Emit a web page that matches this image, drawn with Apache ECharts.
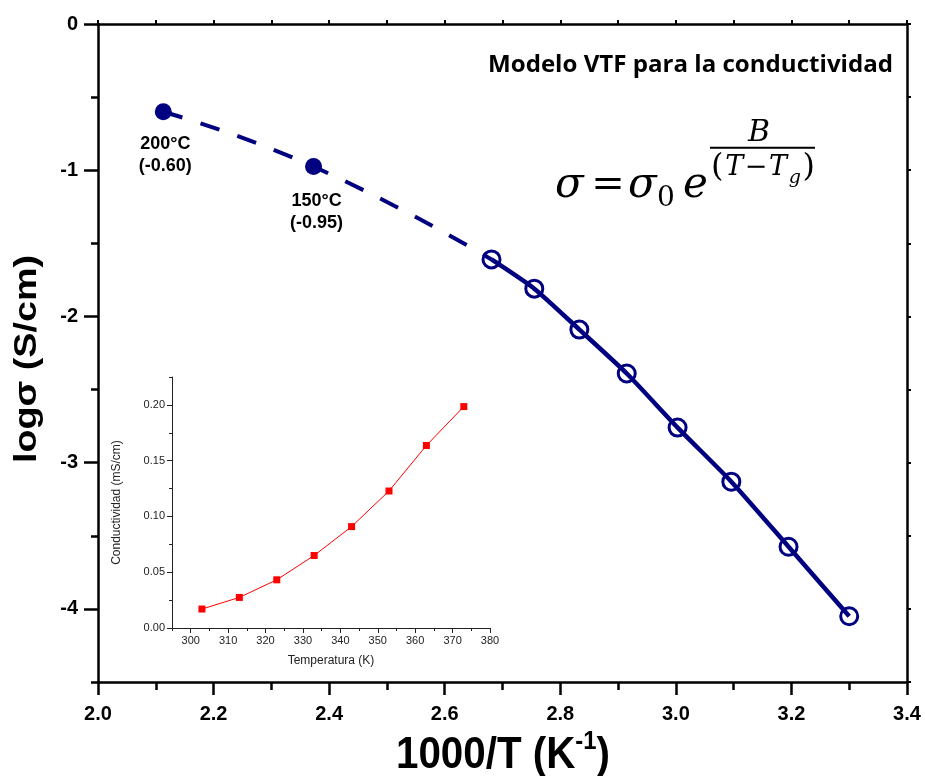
<!DOCTYPE html>
<html><head><meta charset="utf-8">
<script src="https://cdn.jsdelivr.net/npm/echarts@6/dist/echarts.min.js"></script>
<style>html,body{margin:0;padding:0;background:#fff}#c{width:925px;height:776px}</style>
</head><body><div id="c"></div>
<script>
// ---- data ----
const xTickValues = [2.0, 2.2, 2.4, 2.6, 2.8, 3.0, 3.2, 3.4];
const yTickValues = [0, -1, -2, -3, -4];
const yMinorValues = [-0.5, -1.5, -2.5, -3.5, -4.5];
const invTemp = [2.681, 2.755, 2.833, 2.915, 3.003, 3.096, 3.195, 3.300];
const logSigma = [-1.61, -1.81, -2.09, -2.39, -2.76, -3.13, -3.575, -4.05];
const extrapInvTemp = [2.113, 2.373];
const extrapLogSigma = [-0.60, -0.975];
const extrapTemp = ['200°C', '150°C'];
const extrapValueText = ['(-0.60)', '(-0.95)'];
const insetTempK = [303, 313, 323, 333, 343, 353, 363, 373];
const insetCond = [0.017, 0.0274, 0.0432, 0.065, 0.0909, 0.1228, 0.1636, 0.1985];
const insetXLabels = [300, 310, 320, 330, 340, 350, 360, 370, 380];
const insetXMinor = [295, 305, 315, 325, 335, 345, 355, 365, 375];
const insetYLabels = [0, 0.05, 0.10, 0.15, 0.20];
const insetYMinor = [0.025, 0.075, 0.125, 0.175, 0.225];
const titleText = 'Modelo VTF para la conductividad';
const yName = 'logσ (S/cm)';
const xNameMain = '1000/T (K';
const xNameSup = '-1';
const xNameEnd = ')';
const insetXName = 'Temperatura (K)';
const insetYName = 'Conductividad (mS/cm)';

// ---- helpers ----
const NAVY = '#000080';
const SANS = 'Liberation Sans, Arial, sans-serif';
const SERIF = '"DejaVu Serif"';
const mctx = document.createElement('canvas').getContext('2d');
function tw(font, s) { mctx.font = font; return mctx.measureText(s).width; }

const measured = invTemp.map((x, i) => [x, logSigma[i]]);
const dashed = extrapInvTemp.map((x, i) => [x, extrapLogSigma[i]]).concat([measured[0]]);
const extrapPts = extrapInvTemp.map((x, i) => ({
  value: [x, extrapLogSigma[i]],
  label: { distance: i === 0 ? 13 : 15, offset: [i === 0 ? 2 : 3, 0] }
}));
const insetData = insetTempK.map((t, i) => [t, insetCond[i]]);

// text fitting
const titleFont = 'bold 23px "Open Sans"';
const titleScale = 405 / tw(titleFont, titleText);
const yNameFont = 'bold 32px "Liberation Sans"';
const yNameScale = 208 / tw(yNameFont, yName);
const xMainFont = 'bold 44px "Liberation Sans"';
const xSupFont = 'bold 26px "Liberation Sans"';
const w1 = tw(xMainFont, xNameMain), w2 = tw(xSupFont, xNameSup), w3 = tw(xMainFont, xNameEnd);
const xScale = 214 / (w1 + w2 + w3);
const xStart = 503 - (w1 + w2 + w3) * xScale / 2;

const blackLine = { color: '#000', width: 2.5 };
const insetLine = { color: '#222', width: 1 };

function ftext(x, y, text, font, align) {
  return { type: 'text', x: x, y: y, silent: true,
    style: { text: text, font: font, fill: '#000', align: align || 'left', verticalAlign: 'middle' } };
}

// formula  sigma = sigma_0 e^{B/(T-T_g)}
const formula = [
  ftext(555, 186, 'σ', 'italic 42px ' + SERIF),
  ftext(608, 186, '=', '40px ' + SERIF, 'center'),
  ftext(628, 186, 'σ', 'italic 42px ' + SERIF),
  ftext(657, 199, '0', '28px ' + SERIF),
  ftext(683, 186, 'e', 'italic 42px ' + SERIF),
  ftext(759, 133, 'B', 'italic 30px ' + SERIF, 'center'),
  { type: 'line', silent: true, shape: { x1: 710, y1: 147.7, x2: 815, y2: 147.7 }, style: { stroke: '#000', lineWidth: 2 } }
];
const den = [
  { t: '(', f: '32px ' + SERIF, dy: 0 },
  { t: 'T', f: 'italic 27px ' + SERIF, dy: 0 },
  { t: '−', f: '27px ' + SERIF, dy: 0 },
  { t: 'T', f: 'italic 27px ' + SERIF, dy: 0 },
  { t: 'g', f: 'italic 19px ' + SERIF, dy: 10 },
  { t: ')', f: '32px ' + SERIF, dy: 0 }
];
const denW = den.reduce((s, d) => s + tw(d.f, d.t), 0);
const denGap = (104 - denW) / (den.length - 1);
let denX = 711;
den.forEach(d => { formula.push(ftext(denX, 168 + d.dy, d.t, d.f)); denX += tw(d.f, d.t) + denGap; });

const chart = echarts.init(document.getElementById('c'), null, { renderer: 'canvas' });
chart.setOption({
  animation: false,
  backgroundColor: '#fff',
  grid: [
    { left: 98, top: 24, width: 809, height: 658, outerBoundsMode: 'none' },
    { left: 172, top: 377, width: 318, height: 251, outerBoundsMode: 'none' }
  ],
  xAxis: [
    { type: 'value', gridIndex: 0, position: 'bottom', min: 2, max: 3.4, interval: 0.2,
      axisLine: { show: true, onZero: false, lineStyle: blackLine },
      axisTick: { show: true, inside: false, length: 13, lineStyle: blackLine },
      minorTick: { show: true, splitNumber: 2, length: 8, lineStyle: blackLine },
      axisLabel: { show: true, margin: 22, fontSize: 20, fontWeight: 'bold', fontFamily: SANS, color: '#000',
        formatter: v => v.toFixed(1) },
      splitLine: { show: false }, minorSplitLine: { show: false } },
    { type: 'value', gridIndex: 0, position: 'top', min: 2, max: 3.4, interval: 0.1,
      axisLine: { show: true, onZero: false, lineStyle: blackLine },
      axisTick: { show: true, inside: false, length: 4, lineStyle: { color: '#000', width: 2 } },
      axisLabel: { show: false }, splitLine: { show: false } },
    { type: 'value', gridIndex: 1, position: 'bottom', min: 295, max: 380, interval: 5,
      axisLine: { show: true, onZero: false, lineStyle: insetLine },
      axisTick: { show: true, inside: false, length: 5, customValues: insetXLabels, lineStyle: insetLine },
      axisLabel: { show: true, customValues: insetXLabels, margin: 7, fontSize: 11, fontFamily: SANS, color: '#222' },
      splitLine: { show: false },
      name: insetXName, nameLocation: 'middle', nameGap: 27,
      nameTextStyle: { fontSize: 12, fontFamily: SANS, color: '#222' } },
    { type: 'value', gridIndex: 1, position: 'bottom', min: 295, max: 380, interval: 5,
      axisLine: { show: false, onZero: false },
      axisTick: { show: true, inside: false, length: 3, customValues: insetXMinor, lineStyle: insetLine },
      axisLabel: { show: false }, splitLine: { show: false } }
  ],
  yAxis: [
    { type: 'value', gridIndex: 0, position: 'left', min: -4.5, max: 0, interval: 0.5,
      axisLine: { show: true, onZero: false, lineStyle: blackLine },
      axisTick: { show: true, inside: false, length: 14, customValues: yTickValues, lineStyle: blackLine },
      axisLabel: { show: true, customValues: yTickValues, margin: 20, fontSize: 20, fontWeight: 'bold',
        fontFamily: SANS, color: '#000', formatter: v => String(Math.round(v)) },
      splitLine: { show: false } },
    { type: 'value', gridIndex: 0, position: 'left', min: -4.5, max: 0, interval: 0.5,
      axisLine: { show: false, onZero: false },
      axisTick: { show: true, inside: false, length: 7, customValues: yMinorValues, lineStyle: blackLine },
      axisLabel: { show: false }, splitLine: { show: false } },
    { type: 'value', gridIndex: 0, position: 'right', min: -4.5, max: 0, interval: 0.5,
      axisLine: { show: true, onZero: false, lineStyle: blackLine },
      axisTick: { show: true, inside: false, length: 4, lineStyle: { color: '#000', width: 2 } },
      axisLabel: { show: false }, splitLine: { show: false } },
    { type: 'value', gridIndex: 1, position: 'left', min: 0, max: 0.225, interval: 0.05,
      axisLine: { show: true, onZero: false, lineStyle: insetLine },
      axisTick: { show: true, inside: false, length: 5, customValues: insetYLabels, lineStyle: insetLine },
      axisLabel: { show: true, customValues: insetYLabels, margin: 7, fontSize: 11, fontFamily: SANS, color: '#222',
        formatter: v => v.toFixed(2) },
      splitLine: { show: false },
      name: insetYName, nameLocation: 'middle', nameGap: 49, nameRotate: 90,
      nameTextStyle: { fontSize: 12, fontFamily: SANS, color: '#222' } },
    { type: 'value', gridIndex: 1, position: 'left', min: 0, max: 0.225, interval: 0.05,
      axisLine: { show: false, onZero: false },
      axisTick: { show: true, inside: false, length: 3, customValues: insetYMinor, lineStyle: insetLine },
      axisLabel: { show: false }, splitLine: { show: false } }
  ],
  series: [
    { type: 'line', xAxisIndex: 0, yAxisIndex: 0, data: dashed, smooth: true, symbol: 'none', showSymbol: false,
      lineStyle: { color: NAVY, width: 4, type: [20, 19], cap: 'butt' }, z: 2, silent: true },
    { type: 'scatter', xAxisIndex: 0, yAxisIndex: 0, data: extrapPts, symbol: 'circle', symbolSize: 17,
      itemStyle: { color: NAVY, opacity: 1 }, z: 3, silent: true,
      label: { show: true, position: 'bottom', fontSize: 18, fontWeight: 'bold', fontFamily: SANS, color: '#000',
        lineHeight: 22, align: 'center', opacity: 1,
        formatter: p => extrapTemp[p.dataIndex] + '\n' + extrapValueText[p.dataIndex] } },
    { type: 'line', xAxisIndex: 0, yAxisIndex: 0, data: measured, smooth: 0.2, symbol: 'circle', symbolSize: 17,
      showSymbol: true, showAllSymbol: true,
      lineStyle: { color: NAVY, width: 4.5 },
      itemStyle: { color: 'rgba(255,255,255,0)', borderColor: NAVY, borderWidth: 3 }, z: 4, silent: true },
    { type: 'line', xAxisIndex: 2, yAxisIndex: 3, data: insetData, symbol: 'rect', symbolSize: 7,
      lineStyle: { color: '#ff0000', width: 1 }, itemStyle: { color: '#ff0000' }, silent: true }
  ],
  graphic: [
    { type: 'text', x: 488, y: 65.5, scaleX: titleScale, silent: true,
      style: { text: titleText, font: titleFont, fill: '#000', align: 'left', verticalAlign: 'middle' } },
    { type: 'text', x: 27.5, y: 359, rotation: Math.PI / 2, scaleX: yNameScale, silent: true,
      style: { text: yName, font: yNameFont, fill: '#000', align: 'center', verticalAlign: 'middle' } },
    { type: 'text', x: xStart, y: 756, scaleX: xScale, silent: true,
      style: { text: xNameMain, font: xMainFont, fill: '#000', align: 'left', verticalAlign: 'middle' } },
    { type: 'text', x: xStart + w1 * xScale, y: 742, scaleX: xScale, silent: true,
      style: { text: xNameSup, font: xSupFont, fill: '#000', align: 'left', verticalAlign: 'middle' } },
    { type: 'text', x: xStart + (w1 + w2) * xScale, y: 756, scaleX: xScale, silent: true,
      style: { text: xNameEnd, font: xMainFont, fill: '#000', align: 'left', verticalAlign: 'middle' } }
  ].concat(formula)
});
</script></body></html>
